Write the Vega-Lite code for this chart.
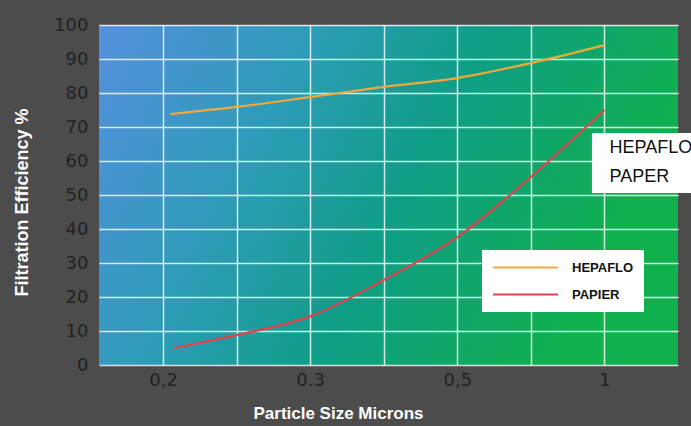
{
  "$schema": "https://vega.github.io/schema/vega-lite/v6.json",
  "width": 579,
  "height": 340,
  "autosize": {"type": "none"},
  "padding": {"left": 99, "top": 25, "right": 13, "bottom": 61},
  "background": "#4c4c4c",
  "view": {
    "stroke": null,
    "fill": {
      "gradient": "linear",
      "x1": 0, "y1": 0, "x2": 1, "y2": 0.3,
      "stops": [
        {"offset": 0, "color": "#5590de"},
        {"offset": 0.35, "color": "#2c9cb6"},
        {"offset": 0.62, "color": "#0f9e86"},
        {"offset": 1, "color": "#10b04c"}
      ]
    }
  },
  "datasets": {
    "curves": [
      {"size": 1.1, "eff": 73.8, "series": "HEPAFLO"},
      {"size": 2, "eff": 75.9, "series": "HEPAFLO"},
      {"size": 3, "eff": 78.8, "series": "HEPAFLO"},
      {"size": 4, "eff": 81.8, "series": "HEPAFLO"},
      {"size": 5, "eff": 84.4, "series": "HEPAFLO"},
      {"size": 6, "eff": 88.8, "series": "HEPAFLO"},
      {"size": 7, "eff": 94.1, "series": "HEPAFLO"},
      {"size": 1.15, "eff": 5, "series": "PAPIER"},
      {"size": 2, "eff": 8.8, "series": "PAPIER"},
      {"size": 3, "eff": 14.3, "series": "PAPIER"},
      {"size": 4, "eff": 25, "series": "PAPIER"},
      {"size": 5, "eff": 37.6, "series": "PAPIER"},
      {"size": 6, "eff": 55.3, "series": "PAPIER"},
      {"size": 7, "eff": 75, "series": "PAPIER"}
    ],
    "noteBox": [
      {"size": 6.83, "size2": 8.4, "eff": 68.2, "eff2": 50.6}
    ],
    "noteText": [
      {"size": 7.07, "eff": 63.8, "label": "HEPAFLO"},
      {"size": 7.07, "eff": 55.3, "label": "PAPER"}
    ]
  },
  "encoding": {
    "x": {
      "field": "size",
      "type": "quantitative",
      "scale": {"domain": [0.13, 8], "nice": false, "zero": false},
      "axis": {
        "title": "Particle Size Microns",
        "values": [1, 2, 3, 4, 5, 6, 7],
        "labelExpr": "datum.value == 1 ? '0,2' : datum.value == 3 ? '0.3' : datum.value == 5 ? '0,5' : datum.value == 7 ? '1' : ''",
        "ticks": false,
        "domain": false,
        "grid": true,
        "gridColor": "#ffffff",
        "gridOpacity": 0.8,
        "gridWidth": 1.5,
        "labelFont": "DejaVu Sans",
        "labelFontSize": 18,
        "labelColor": "#222222",
        "labelPadding": 6,
        "titleFont": "Liberation Sans",
        "titleFontWeight": "bold",
        "titleFontSize": 17,
        "titleColor": "#ffffff",
        "titleX": 239,
        "titleY": 48,
        "titleAlign": "center",
        "titleBaseline": "middle"
      }
    },
    "y": {
      "field": "eff",
      "type": "quantitative",
      "scale": {"domain": [0, 100], "nice": false},
      "axis": {
        "title": "Filtration Efficiency %",
        "values": [0, 10, 20, 30, 40, 50, 60, 70, 80, 90, 100],
        "labelOverlap": false,
        "ticks": false,
        "domain": false,
        "grid": true,
        "gridColor": "#ffffff",
        "gridOpacity": 0.8,
        "gridWidth": 1.5,
        "labelFont": "DejaVu Sans",
        "labelFontSize": 18,
        "labelColor": "#222222",
        "labelPadding": 11,
        "titleFont": "Liberation Sans",
        "titleFontWeight": "bold",
        "titleFontSize": 18,
        "titleColor": "#ffffff",
        "titleX": -77,
        "titleY": 177,
        "titleAngle": -90,
        "titleAlign": "center",
        "titleBaseline": "middle"
      }
    }
  },
  "layer": [
    {
      "data": {"name": "curves"},
      "mark": {"type": "line", "interpolate": "monotone", "strokeWidth": 2.2},
      "encoding": {
        "color": {
          "field": "series",
          "type": "nominal",
          "scale": {"domain": ["HEPAFLO", "PAPIER"], "range": ["#f0a93a", "#e0434f"]},
          "legend": {
            "orient": "none",
            "legendX": 383,
            "legendY": 225,
            "title": null,
            "fillColor": "#ffffff",
            "strokeColor": null,
            "padding": 10,
            "symbolType": "M-1,0H9",
            "symbolSize": 169,
            "symbolStrokeWidth": 2,
            "labelFont": "Liberation Sans",
            "labelFontSize": 13,
            "labelFontWeight": "bold",
            "labelColor": "#111111",
            "labelOffset": 65,
            "rowPadding": 12
          }
        }
      }
    },
    {
      "data": {"name": "noteBox"},
      "mark": {"type": "rect", "fill": "#ffffff"},
      "encoding": {
        "x2": {"field": "size2"},
        "y2": {"field": "eff2"}
      }
    },
    {
      "data": {"name": "noteText"},
      "mark": {"type": "text", "align": "left", "baseline": "middle", "font": "Liberation Sans", "fontSize": 18, "color": "#111111"},
      "encoding": {
        "text": {"field": "label"}
      }
    }
  ]
}
